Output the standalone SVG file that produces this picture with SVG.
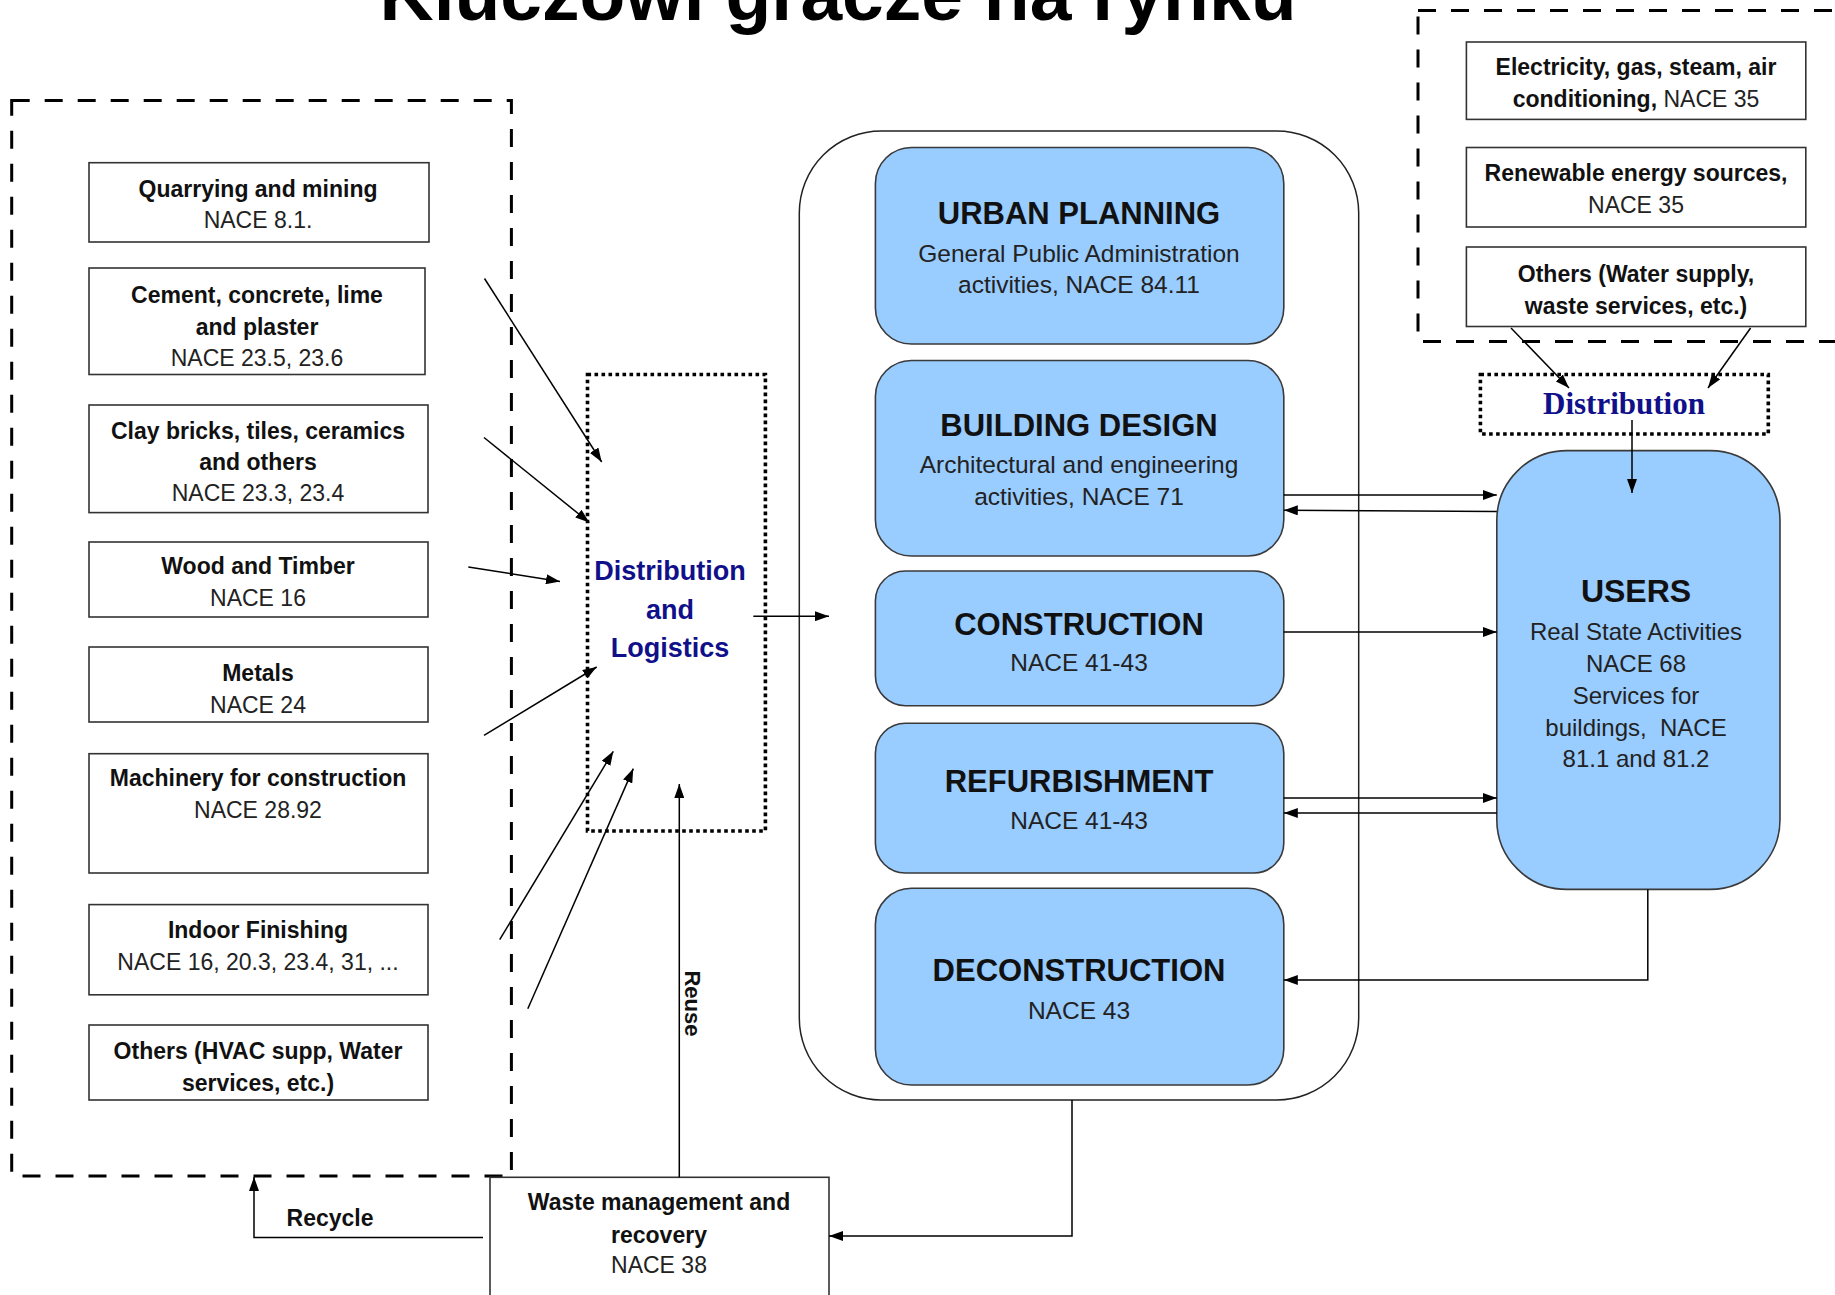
<svg xmlns="http://www.w3.org/2000/svg" width="1835" height="1295" viewBox="0 0 1835 1295">
<defs>
<style>
.box{fill:#fff;stroke:#333;stroke-width:1.6}
.blue{fill:#99CCFF;stroke:#3a3a3a;stroke-width:1.6}
.dash{fill:none;stroke:#000;stroke-width:3;stroke-dasharray:18 15}
.dot{fill:none;stroke:#000;stroke-width:3.6;stroke-dasharray:3.6 3.4}
.conn{fill:none;stroke:#000;stroke-width:1.5}
text{font-family:"Liberation Sans",Arial,sans-serif;text-anchor:middle;fill:#111}
.b{font-weight:bold;font-size:23px}
.r{font-size:23px;fill:#222}
.t{font-weight:bold;font-size:31px}
.s{font-size:24.5px;fill:#222}
.u{font-size:24px;fill:#222}
.nv{font-weight:bold;font-size:27px;fill:#10108a}
</style>
<marker id="ah" viewBox="0 0 14 10" refX="14" refY="5" markerWidth="14" markerHeight="10" markerUnits="userSpaceOnUse" orient="auto">
<path d="M0,0 L14,5 L0,10 z" fill="#000"/>
</marker>
</defs>
<rect width="1835" height="1295" fill="#fff"/>

<text x="838" y="20" style="font-weight:bold;font-size:75px;fill:#000">Kluczowi gracze na rynku</text>

<g id="suppliers-group">
<rect class="dash" x="11.7" y="100.6" width="499.7" height="1075.4"/>
</g>
<g id="energy-group">
<rect class="dash" x="1418" y="10.5" width="440" height="331"/>
</g>

<g id="quarrying">
<rect class="box" x="89" y="162.7" width="340" height="79.3"/>
<text class="b" x="258" y="196.5">Quarrying and mining</text>
<text class="r" x="258" y="228">NACE 8.1.</text>
</g>
<g id="cement">
<rect class="box" x="89" y="268" width="336" height="106.5"/>
<text class="b" x="257" y="303">Cement, concrete, lime</text>
<text class="b" x="257" y="334.5">and plaster</text>
<text class="r" x="257" y="366">NACE 23.5, 23.6</text>
</g>
<g id="clay">
<rect class="box" x="89" y="405" width="339" height="107.6"/>
<text class="b" x="258" y="439">Clay bricks, tiles, ceramics</text>
<text class="b" x="258" y="470">and others</text>
<text class="r" x="258" y="501">NACE 23.3, 23.4</text>
</g>
<g id="wood">
<rect class="box" x="89" y="542" width="339" height="75"/>
<text class="b" x="258" y="574">Wood and Timber</text>
<text class="r" x="258" y="606">NACE 16</text>
</g>
<g id="metals">
<rect class="box" x="89" y="647" width="339" height="75"/>
<text class="b" x="258" y="681">Metals</text>
<text class="r" x="258" y="712.5">NACE 24</text>
</g>
<g id="machinery">
<rect class="box" x="89" y="753.7" width="339" height="119.3"/>
<text class="b" x="258" y="786">Machinery for construction</text>
<text class="r" x="258" y="818">NACE 28.92</text>
</g>
<g id="indoor">
<rect class="box" x="89" y="904.6" width="339" height="90.2"/>
<text class="b" x="258" y="938">Indoor Finishing</text>
<text class="r" x="258" y="970">NACE 16, 20.3, 23.4, 31, ...</text>
</g>
<g id="others-left">
<rect class="box" x="89" y="1025" width="339" height="75"/>
<text class="b" x="258" y="1059">Others (HVAC supp, Water</text>
<text class="b" x="258" y="1090.5">services, etc.)</text>
</g>

<g id="distribution-logistics">
<rect class="dot" x="587.5" y="374.5" width="177.9" height="456.5"/>
<text class="nv" x="670" y="580">Distribution</text>
<text class="nv" x="670" y="618.5">and</text>
<text class="nv" x="670" y="657">Logistics</text>
</g>

<g id="value-chain">
<rect x="799.3" y="131" width="559.4" height="969" rx="82" ry="82" fill="none" stroke="#222" stroke-width="1.5"/>
</g>
<g id="urban-planning">
<rect class="blue" x="875.4" y="147.5" width="408.4" height="196.5" rx="36" ry="36"/>
<text class="t" x="1079" y="224">URBAN PLANNING</text>
<text class="s" x="1079" y="261.5">General Public Administration</text>
<text class="s" x="1079" y="293">activities, NACE 84.11</text>
</g>
<g id="building-design">
<rect class="blue" x="875.4" y="360.5" width="408.4" height="195.5" rx="36" ry="36"/>
<text class="t" x="1079" y="436">BUILDING DESIGN</text>
<text class="s" x="1079" y="473">Architectural and engineering</text>
<text class="s" x="1079" y="505">activities, NACE 71</text>
</g>
<g id="construction">
<rect class="blue" x="875.4" y="571" width="408.4" height="134.7" rx="30" ry="30"/>
<text class="t" x="1079" y="635">CONSTRUCTION</text>
<text class="s" x="1079" y="671">NACE 41-43</text>
</g>
<g id="refurbishment">
<rect class="blue" x="875.4" y="723.2" width="408.4" height="149.8" rx="30" ry="30"/>
<text class="t" x="1079" y="792">REFURBISHMENT</text>
<text class="s" x="1079" y="829">NACE 41-43</text>
</g>
<g id="deconstruction">
<rect class="blue" x="875.4" y="888.3" width="408.4" height="196.7" rx="36" ry="36"/>
<text class="t" x="1079" y="981">DECONSTRUCTION</text>
<text class="s" x="1079" y="1018.5">NACE 43</text>
</g>

<g id="electricity">
<rect class="box" x="1466.4" y="42" width="339.4" height="77.4"/>
<text class="b" x="1636" y="75">Electricity, gas, steam, air</text>
<text x="1636" y="106.5" style="font-size:23px"><tspan font-weight="bold">conditioning,</tspan><tspan fill="#222"> NACE 35</tspan></text>
</g>
<g id="renewable">
<rect class="box" x="1466.4" y="147.5" width="339.4" height="79.5"/>
<text class="b" x="1636" y="181">Renewable energy sources,</text>
<text class="r" x="1636" y="213">NACE 35</text>
</g>
<g id="others-right">
<rect class="box" x="1466.4" y="247" width="339.4" height="79.5"/>
<text class="b" x="1636" y="282">Others (Water supply,</text>
<text class="b" x="1636" y="313.5">waste services, etc.)</text>
</g>
<g id="distribution">
<rect class="dot" x="1480.4" y="374.5" width="287.9" height="59.5"/>
<text x="1624" y="414" style="font-family:'Liberation Serif','Times New Roman',serif;font-weight:bold;font-size:31px;fill:#10108a">Distribution</text>
</g>
<g id="users">
<rect class="blue" x="1496.8" y="450.6" width="283.2" height="438.8" rx="70" ry="70"/>
<text x="1636" y="602" style="font-weight:bold;font-size:32px">USERS</text>
<text class="u" x="1636" y="640">Real State Activities</text>
<text class="u" x="1636" y="672">NACE 68</text>
<text class="u" x="1636" y="704">Services for</text>
<text class="u" x="1636" y="736" xml:space="preserve">buildings,  NACE</text>
<text class="u" x="1636" y="767">81.1 and 81.2</text>
</g>
<g id="waste">
<rect class="box" x="490" y="1177.3" width="339" height="140"/>
<text class="b" x="659" y="1210">Waste management and</text>
<text class="b" x="659" y="1243">recovery</text>
<text class="r" x="659" y="1273">NACE 38</text>
</g>

<g id="connectors">
<line class="conn" x1="484.5" y1="278.5" x2="601.7" y2="462" marker-end="url(#ah)"/>
<line class="conn" x1="484" y1="437.5" x2="589.3" y2="522.5" marker-end="url(#ah)"/>
<line class="conn" x1="468.3" y1="566.9" x2="560" y2="581.4" marker-end="url(#ah)"/>
<line class="conn" x1="484" y1="735.3" x2="596.7" y2="667" marker-end="url(#ah)"/>
<line class="conn" x1="499.7" y1="939.7" x2="613.3" y2="751.3" marker-end="url(#ah)"/>
<line class="conn" x1="527.8" y1="1008.8" x2="633.3" y2="768.6" marker-end="url(#ah)"/>
<line class="conn" x1="679.3" y1="1177.3" x2="679.3" y2="784" marker-end="url(#ah)"/>
<line class="conn" x1="753.3" y1="616.2" x2="829" y2="616.2" marker-end="url(#ah)"/>
<line class="conn" x1="1511" y1="328" x2="1569" y2="388" marker-end="url(#ah)"/>
<line class="conn" x1="1750.6" y1="328" x2="1708" y2="388" marker-end="url(#ah)"/>
<line class="conn" x1="1632" y1="420" x2="1632" y2="493" marker-end="url(#ah)"/>
<line class="conn" x1="1283.8" y1="495" x2="1496.8" y2="495" marker-end="url(#ah)"/>
<line class="conn" x1="1496.8" y1="511.4" x2="1283.8" y2="510.3" marker-end="url(#ah)"/>
<line class="conn" x1="1283.8" y1="632" x2="1496.8" y2="632" marker-end="url(#ah)"/>
<line class="conn" x1="1283.8" y1="798" x2="1496.8" y2="798" marker-end="url(#ah)"/>
<line class="conn" x1="1496.8" y1="813" x2="1283.8" y2="813" marker-end="url(#ah)"/>
<polyline class="conn" points="1647.8,889.4 1647.8,980 1283.8,980" marker-end="url(#ah)"/>
<polyline class="conn" points="1072,1100 1072,1236 829,1236" marker-end="url(#ah)"/>
<polyline class="conn" points="483,1237.5 254,1237.5 254,1177" marker-end="url(#ah)"/>
<text x="693" y="1003.5" transform="rotate(90 693 1003.5)" dy="8" style="font-weight:bold;font-size:22px">Reuse</text>
<text class="b" x="330" y="1226">Recycle</text>
</g>
</svg>
